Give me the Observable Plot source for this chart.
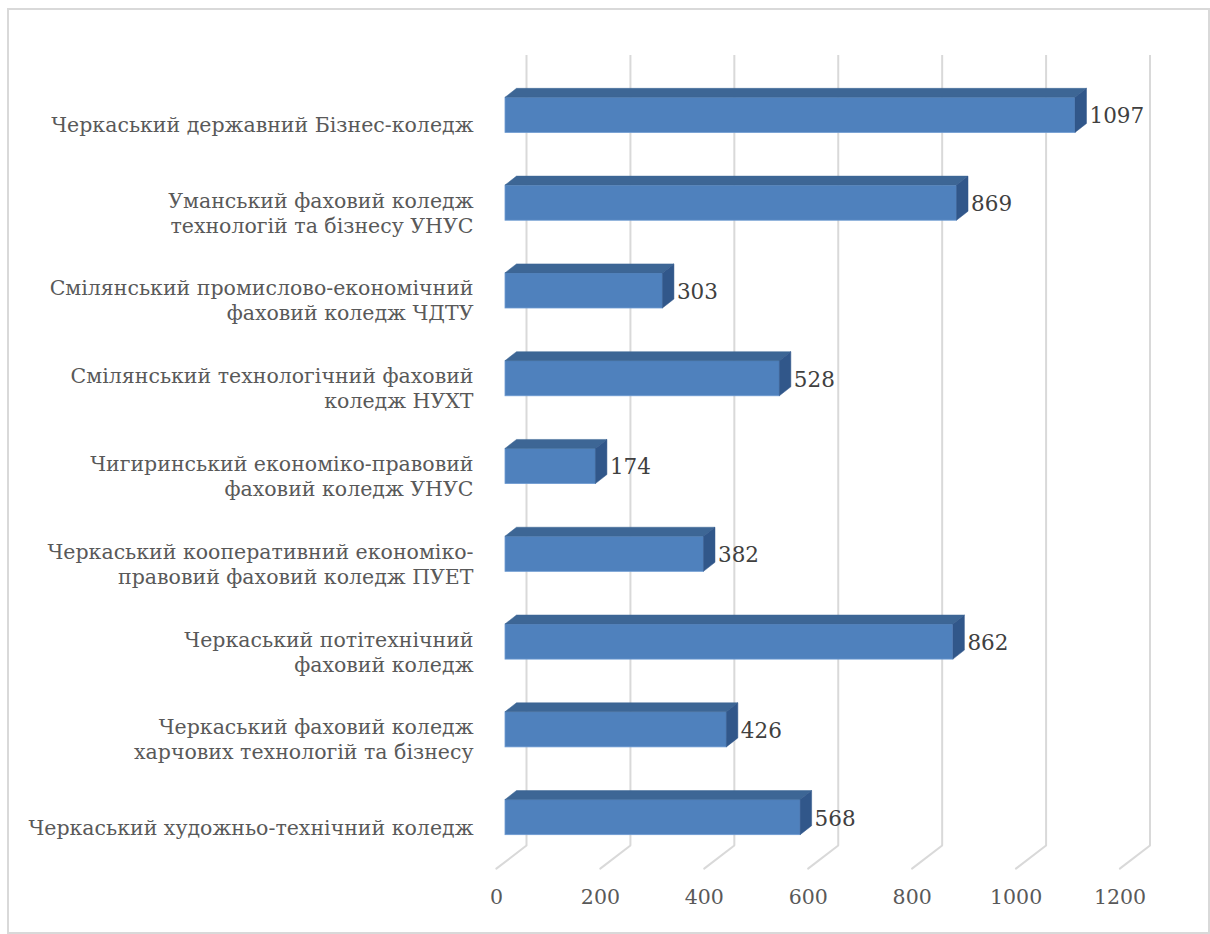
<!DOCTYPE html>
<html>
<head>
<meta charset="utf-8">
<script src="https://cdn.jsdelivr.net/npm/d3@7"></script>
<script src="https://cdn.jsdelivr.net/npm/@observablehq/plot@0.6"></script>
<style>
  html, body { margin: 0; padding: 0; background: #fff; }
  #wrap { position: relative; width: 1210px; height: 934px; }
  #border { position: absolute; left: 7px; top: 8px; width: 1199px; height: 922px; border: 2px solid #d9d9d9; pointer-events: none; }
  svg { display: block; }
</style>
</head>
<body>
<div id="wrap"><div id="border"></div></div>
<script>
const categories = [
  "Черкаський державний Бізнес-коледж",
  "Уманський фаховий коледж\nтехнологій та бізнесу УНУС",
  "Смілянський промислово-економічний\nфаховий коледж ЧДТУ",
  "Смілянський технологічний фаховий\nколедж НУХТ",
  "Чигиринський економіко-правовий\nфаховий коледж УНУС",
  "Черкаський кооперативний економіко-\nправовий фаховий коледж ПУЕТ",
  "Черкаський потітехнічний\nфаховий коледж",
  "Черкаський фаховий коледж\nхарчових технологій та бізнесу",
  "Черкаський художньо-технічний коледж"
];
const values = [1097, 869, 303, 528, 174, 382, 862, 426, 568];
const xTicks = [0, 200, 400, 600, 800, 1000, 1200];

const data = categories.map((label, i) => ({label, value: values[i], i}));

const FONT = "DejaVu Serif";
const ox = 11.5, oy = 9; // bar depth offsets

const chart = Plot.plot({
  width: 1210,
  height: 934,
  marginLeft: 505,
  marginRight: 81.5,
  marginTop: 71,
  marginBottom: 73,
  style: {fontFamily: FONT, background: "transparent"},
  x: {domain: [0, 1200], range: [505, 1128.5], axis: null},
  y: {domain: [-0.5, 8.5], range: [71, 861], axis: null},
  marks: [
    // back wall gridlines
    Plot.ruleX(xTicks, {x: d => d, y1: -0.5, y2: 8.5, dx: 21, dy: -16, stroke: "#d9d9d9", strokeWidth: 2}),
    // floor diagonals
    Plot.vector(xTicks, {
      x: d => d, y: 8.5, dx: 21, dy: -16, length: 38, rotate: 232.5, anchor: "start",
      stroke: "#d9d9d9", strokeWidth: 2,
      shape: {draw(context, l) { context.moveTo(0, 0); context.lineTo(0, -l); }}
    }),
    // 3D bars
    Plot.rect(data, {
      x1: () => 0, x2: "value", y1: d => d.i - 0.2, y2: d => d.i + 0.2,
      fill: "#4f81bd", stroke: "#6e9bd2", strokeWidth: 0.8,
      render(index, scales, vals, dimensions, context, next) {
        const g = next(index, scales, vals, dimensions, context);
        const X1 = vals.x1, X2 = vals.x2, Y1 = vals.y1, Y2 = vals.y2;
        const sel = d3.select(g);
        for (const k of index) {
          const l = Math.min(X1[k], X2[k]), r = Math.max(X1[k], X2[k]);
          const t = Math.min(Y1[k], Y2[k]), b = Math.max(Y1[k], Y2[k]);
          sel.append("path")
            .attr("d", `M${l},${t}L${l + ox},${t - oy}L${r + ox},${t - oy}L${r},${t}Z`)
            .attr("fill", "#3d6695").attr("stroke", "#3d6695").attr("stroke-width", 0.5);
          sel.append("path")
            .attr("d", `M${r},${t}L${r + ox},${t - oy}L${r + ox},${b - oy}L${r},${b}Z`)
            .attr("fill", "#31578a").attr("stroke", "#31578a").attr("stroke-width", 0.5);
        }
        return g;
      }
    }),
    // value labels
    Plot.text(data, {
      x: "value", y: "i", text: d => String(d.value), textAnchor: "start", dx: 14, dy: 1,
      fontSize: 21.5, fill: "#404040"
    }),
    // category labels
    Plot.text(data, {
      x: 0, y: "i", text: "label", textAnchor: "end", dx: -32, dy: 9,
      lineHeight: 1.22, fontSize: 20.5, fill: "#595959"
    }),
    // x tick labels
    Plot.text(xTicks, {
      x: d => d, y: 8.5, text: d => String(d), dx: -9, dy: 36,
      fontSize: 20.5, fill: "#595959"
    })
  ]
});
document.getElementById("wrap").appendChild(chart);
</script>
</body>
</html>
